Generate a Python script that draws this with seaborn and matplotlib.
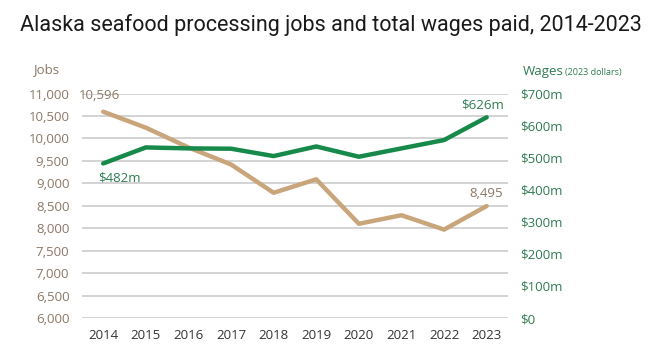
import matplotlib
matplotlib.use("Agg")
import matplotlib.pyplot as plt
import seaborn as sns
import pandas as pd

years = ["2014", "2015", "2016", "2017", "2018", "2019", "2020", "2021", "2022", "2023"]
jobs = [10596, 10240, 9800, 9420, 8790, 9090, 8100, 8290, 7970, 8495]
wages = [482, 532, 529, 528, 505, 535, 503, 529, 555, 626]
jobs_ticks = list(range(6000, 11001, 500))
wage_ticks = list(range(0, 701, 100))

TAN = "#c9a57c"
GREEN = "#17894a"
TAN_TXT = "#8a7866"
GREEN_TXT = "#2f7d52"

df = pd.DataFrame({"year": years, "jobs": jobs, "wages": wages})
df["x"] = range(len(years))

sns.set_theme(style="white")
plt.rcParams["font.family"] = ["Open Sans", "DejaVu Sans"]

fig = plt.figure(figsize=(6.5, 3.53), dpi=100)
ax = fig.add_axes([0.126, 0.099, 0.6555, 0.636])
ax2 = ax.twinx()

sns.lineplot(data=df, x="x", y="jobs", ax=ax, color=TAN, linewidth=3.2, zorder=3)
sns.lineplot(data=df, x="x", y="wages", ax=ax2, color=GREEN, linewidth=3.2, zorder=3)

ax.set_xlim(-0.5, 9.5)
ax.set_ylim(6000, 11000)
ax2.set_ylim(0, 700)
ax.set_yticks(jobs_ticks)
ax.set_yticklabels([f"{v:,}" for v in jobs_ticks], color=TAN_TXT, fontsize=9.5)
ax2.set_yticks(wage_ticks)
ax2.set_yticklabels(["$0" if v == 0 else f"${v}m" for v in wage_ticks], color=GREEN_TXT, fontsize=9.5)
ax.set_xticks(df["x"])
ax.set_xticklabels(years, color="#333333", fontsize=9.5)
ax.tick_params(axis="y", length=0, pad=9)
ax2.tick_params(axis="y", length=0, pad=9)
ax.tick_params(axis="x", length=0, pad=8)
ax.set_xlabel("")
ax.set_ylabel("")
ax2.set_ylabel("")
ax.yaxis.grid(True, color="#cccccc", linewidth=1.2)
ax.set_axisbelow(True)
for a in (ax, ax2):
    for s in a.spines.values():
        s.set_visible(False)
ax2.set_zorder(ax.get_zorder() + 1)
ax2.patch.set_visible(False)

# annotations
ax.annotate(f"{jobs[0]:,}", (0, jobs[0]), xytext=(-3, 7), textcoords="offset points",
            ha="center", va="bottom", color=TAN_TXT, fontsize=9.5)
ax.annotate(f"{jobs[-1]:,}", (9, jobs[-1]), xytext=(0, 4), textcoords="offset points",
            ha="center", va="bottom", color=TAN_TXT, fontsize=9.5)
ax2.annotate(f"${wages[0]}m", (0, wages[0]), xytext=(12, -6), textcoords="offset points",
             ha="center", va="top", color=GREEN_TXT, fontsize=9.5)
ax2.annotate(f"${wages[-1]}m", (9, wages[-1]), xytext=(-3, 4), textcoords="offset points",
             ha="center", va="bottom", color=GREEN_TXT, fontsize=9.5)

fig.text(33 / 650, 1 - 70 / 353, "Jobs", color=TAN_TXT, fontsize=9.5, ha="left", va="center")
fig.text(523 / 650, 1 - 72 / 353, "Wages", color=GREEN_TXT, fontsize=9.5, ha="left", va="center")
fig.text(565 / 650, 1 - 72 / 353, "(2023 dollars)", color=GREEN_TXT, fontsize=6.5, ha="left", va="center")

fig.text(331 / 650, 1 - 25 / 353, "Alaska seafood processing jobs and total wages paid, 2014-2023",
         family=["Liberation Sans Narrow", "Roboto", "DejaVu Sans"], fontsize=15.5,
         color="#1a1a1a", ha="center", va="center")

fig.savefig("out.png", dpi=100, facecolor="white")
